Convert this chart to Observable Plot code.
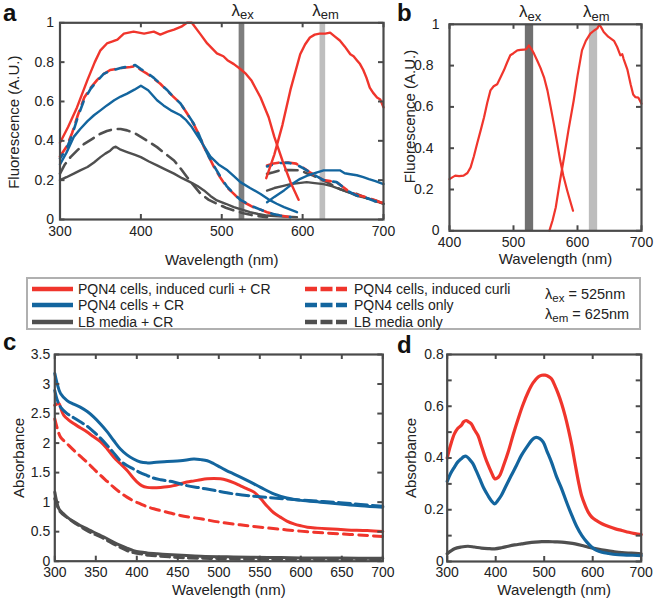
<!DOCTYPE html>
<html><head><meta charset="utf-8">
<script src="https://cdn.jsdelivr.net/npm/d3@7"></script>
<script src="https://cdn.jsdelivr.net/npm/@observablehq/plot@0.6"></script>
<style>
body{margin:0;background:#fff;}
#fig{position:relative;width:666px;height:599px;overflow:hidden;font-family:"Liberation Sans",Arial,Helvetica,sans-serif;color:#222;}
.plabel{position:absolute;font-weight:bold;font-size:24px;line-height:24px;color:#111;}
#legend{position:absolute;left:26px;top:277px;width:615px;height:53px;border:2px solid #b0b0b0;box-sizing:border-box;font-size:14px;}
.lent{position:absolute;height:16px;line-height:16px;white-space:nowrap;}
.lent svg{position:absolute;top:0;}
.lam{position:absolute;font-size:14.5px;white-space:nowrap;line-height:16px;}
.lam sub{font-size:11.5px;vertical-align:-3px;}
</style></head>
<body><div id="fig"></div>
<script>
// ---------- colours ----------
const RED = "#f0352c", BLUE = "#13659e", GRAY = "#4f4f4f", AXC = "#4a4a4a";
const FONT = '"Liberation Sans", Arial, Helvetica, sans-serif';

// ---------- panel a : fluorescence (excitation 300-595, emission 555-700) ----------
const aRedSolidEx = [[300,0.39],[310,0.47],[321,0.57],[334,0.71],[343,0.80],[350,0.86],[358,0.895],[365,0.905],[371,0.915],[379,0.945],[391,0.955],[404,0.945],[416,0.955],[424,0.94],[433,0.955],[441,0.965],[450,0.98],[457,1.0],[463,1.0],[474,0.94],[482,0.895],[494,0.845],[502,0.83],[507,0.81],[515,0.79],[523,0.765],[530,0.74],[537,0.705],[548,0.62],[558,0.52],[565,0.42],[575,0.30],[585,0.19],[595,0.10]];
const aRedSolidEm = [[555,0.21],[565,0.33],[575,0.48],[585,0.66],[597,0.84],[603,0.89],[609,0.925],[615,0.94],[621,0.945],[628,0.945],[634,0.95],[640,0.93],[646,0.91],[652,0.88],[659,0.84],[663,0.83],[667,0.81],[671,0.79],[675,0.76],[679,0.72],[683,0.67],[687,0.645],[692,0.62],[696,0.61],[700,0.57]];
const aBlueSolidEx = [[300,0.28],[308,0.34],[317,0.42],[325,0.46],[334,0.50],[342,0.53],[350,0.555],[358,0.58],[367,0.606],[375,0.625],[383,0.64],[392,0.66],[400,0.68],[409,0.657],[420,0.606],[428,0.58],[437,0.555],[449,0.53],[456,0.505],[463,0.47],[474,0.40],[486,0.32],[496,0.28],[507,0.25],[515,0.22],[523,0.19],[535,0.16],[548,0.13],[560,0.097],[568,0.08],[577,0.063],[585,0.05],[593,0.037]];
const aBlueSolidEm = [[556,0.088],[565,0.115],[577,0.148],[587,0.18],[597,0.207],[607,0.225],[618,0.24],[626,0.25],[638,0.25],[646,0.25],[652,0.235],[659,0.23],[667,0.225],[675,0.215],[682,0.205],[690,0.195],[700,0.18]];
const aGraySolidEx = [[300,0.2],[308,0.215],[317,0.233],[325,0.25],[334,0.267],[342,0.29],[350,0.317],[356,0.335],[362,0.35],[366,0.365],[369,0.37],[375,0.355],[383,0.343],[392,0.33],[400,0.317],[410,0.295],[420,0.275],[430,0.255],[441,0.233],[451,0.21],[461,0.19],[470,0.17],[478,0.148],[486,0.12],[494,0.097],[505,0.08],[515,0.063],[525,0.05],[535,0.037],[545,0.028],[556,0.02],[575,0.015],[593,0.012]];
const aGraySolidEm = [[556,0.147],[565,0.16],[575,0.17],[585,0.18],[595,0.185],[605,0.19],[615,0.185],[626,0.18],[636,0.17],[646,0.155],[656,0.14],[667,0.12],[678,0.11],[691,0.096],[700,0.08]];
const aRedDashEx = [[300,0.32],[308,0.37],[315,0.44],[322,0.53],[330,0.62],[338,0.67],[346,0.71],[354,0.74],[362,0.76],[375,0.77],[387,0.775],[393,0.78],[400,0.76],[408,0.74],[416,0.716],[424,0.69],[432,0.657],[440,0.625],[449,0.59],[457,0.54],[465,0.487],[472,0.43],[478,0.368],[484,0.32],[490,0.27],[498,0.215],[506,0.165],[515,0.13],[523,0.097],[531,0.08],[539,0.063],[548,0.05],[556,0.037],[564,0.028],[572,0.02],[585,0.012]];
const aBlueDashEx = [[300,0.31],[308,0.36],[315,0.43],[322,0.52],[330,0.61],[338,0.665],[346,0.705],[354,0.74],[362,0.755],[375,0.77],[387,0.78],[393,0.785],[400,0.765],[408,0.745],[416,0.72],[424,0.69],[432,0.66],[440,0.625],[449,0.59],[457,0.54],[465,0.49],[472,0.43],[478,0.37],[484,0.32],[490,0.275],[498,0.22],[506,0.17],[515,0.13],[523,0.1],[531,0.082],[539,0.065],[548,0.05],[556,0.037],[564,0.028],[572,0.02],[585,0.012]];
const aGrayDashEx = [[300,0.233],[306,0.28],[313,0.317],[321,0.35],[330,0.385],[340,0.41],[350,0.436],[358,0.45],[367,0.46],[375,0.46],[383,0.453],[392,0.44],[400,0.42],[410,0.395],[420,0.368],[430,0.335],[441,0.30],[449,0.26],[457,0.216],[466,0.17],[474,0.13],[484,0.10],[494,0.08],[505,0.06],[515,0.046],[527,0.032],[539.5,0.02],[556,0.012]];
const aRedDashEm = [[556,0.274],[564,0.285],[572,0.29],[582,0.29],[592,0.284],[600,0.265],[609,0.24],[617,0.22],[626,0.2],[634,0.195],[642,0.19],[650,0.165],[658,0.14],[668,0.125],[679,0.113],[688,0.1],[696,0.088],[700,0.085]];
const aBlueDashEm = [[556,0.27],[564,0.28],[572,0.287],[582,0.288],[592,0.28],[600,0.262],[609,0.24],[617,0.22],[626,0.2],[634,0.195],[642,0.19],[650,0.165],[658,0.14],[668,0.12],[679,0.11],[688,0.095],[696,0.085],[700,0.082]];
const aGrayDashEm = [[556,0.232],[564,0.24],[572,0.25],[585,0.252],[597,0.25],[605,0.235],[613,0.223],[622,0.205],[630,0.19],[638,0.172],[646,0.155],[656,0.14],[667,0.13],[677,0.112],[687,0.096],[695,0.088],[700,0.08]];

// ---------- panel b : purified curli + CR ----------
const bEx = [[400,0.25],[405,0.26],[409,0.267],[415,0.265],[422,0.267],[428,0.28],[433,0.307],[438,0.36],[443,0.42],[449,0.49],[454,0.55],[459,0.62],[464,0.68],[469,0.70],[474.5,0.71],[480,0.745],[485,0.777],[490,0.815],[495,0.85],[500,0.86],[506,0.874],[511,0.876],[516,0.877],[520,0.88],[524,0.898],[528,0.88],[532,0.858],[537,0.825],[542,0.79],[548,0.74],[553,0.68],[558,0.60],[563,0.518],[568,0.43],[573,0.34],[578,0.265],[584,0.194],[588,0.15],[593,0.097]];
const bEm = [[556,0],[561,0.05],[566,0.113],[572,0.23],[579,0.356],[586,0.49],[594,0.63],[600,0.75],[607,0.874],[613,0.92],[620,0.955],[626,0.97],[631,0.98],[634,1.0],[637,0.985],[641,0.963],[648,0.94],[657,0.92],[662,0.89],[667,0.85],[670,0.855],[672,0.833],[678,0.78],[683,0.71],[687,0.66],[690.6,0.647],[695,0.645],[700,0.615]];

// ---------- panel c : absorbance ----------
const cBlueSolid = [[300,3.18],[303,3.0],[307,2.84],[315,2.72],[323,2.66],[331,2.61],[340,2.53],[347.6,2.44],[356,2.32],[364,2.19],[372,2.04],[380,1.9],[388,1.8],[396,1.73],[404.5,1.68],[412,1.665],[420.7,1.67],[437,1.69],[453,1.70],[469.5,1.73],[478,1.72],[486,1.70],[494,1.65],[502,1.59],[510,1.53],[518,1.48],[534.5,1.37],[551,1.25],[567,1.14],[583,1.07],[600,1.03],[624,1.0],[648,0.97],[673,0.94],[700,0.915]];
const cBlueDash = [[300,2.89],[303,2.73],[307,2.61],[315,2.5],[323,2.43],[331,2.36],[340,2.28],[347.6,2.19],[356,2.08],[364,1.96],[372,1.83],[380,1.7],[388,1.62],[396,1.56],[404,1.5],[412.6,1.45],[420,1.41],[429,1.38],[445,1.34],[461,1.28],[478,1.24],[494,1.2],[518,1.14],[543,1.10],[567,1.07],[591.5,1.045],[620,1.017],[648,0.99],[673,0.96],[700,0.93]];
const cRedSolid = [[300,2.64],[305,2.67],[308,2.56],[311,2.47],[317,2.39],[323,2.33],[331,2.26],[339,2.19],[347,2.11],[356,2.02],[364,1.9],[372,1.76],[380,1.65],[388,1.54],[395,1.42],[400.4,1.34],[406,1.28],[412.6,1.25],[420,1.245],[429,1.25],[437,1.26],[445,1.28],[453,1.31],[461,1.34],[470,1.36],[478,1.38],[486,1.395],[494,1.40],[502,1.395],[510,1.37],[518,1.33],[526,1.28],[534,1.23],[543,1.17],[551,1.06],[559,0.93],[567,0.82],[575,0.746],[583,0.68],[591.5,0.633],[600,0.6],[608,0.576],[620,0.56],[632,0.548],[656.5,0.53],[681,0.52],[700,0.503]];
const cRedDash = [[300,2.41],[303,2.25],[307,2.10],[315,1.99],[323,1.88],[331,1.78],[339,1.68],[347,1.57],[356,1.45],[364,1.35],[372,1.25],[380,1.16],[388,1.085],[396,1.02],[404.5,0.97],[412,0.925],[420.7,0.887],[437,0.83],[453,0.774],[478,0.717],[502,0.66],[526,0.616],[551,0.576],[583,0.53],[616,0.49],[648,0.463],[681,0.435],[700,0.418]];
const cGraySolid = [[300,1.17],[302,1.03],[305,0.887],[310,0.81],[315,0.746],[323,0.67],[331,0.605],[340,0.545],[347.6,0.49],[356,0.435],[364,0.38],[372,0.32],[380,0.266],[388,0.22],[396,0.18],[404,0.155],[412.6,0.14],[425,0.125],[437,0.113],[455,0.1],[478,0.085],[518,0.073],[560,0.064],[600,0.056],[650,0.053],[700,0.05]];
const cGrayDash = [[300,1.06],[303,0.94],[307,0.83],[315,0.74],[323,0.66],[331,0.59],[339,0.52],[347,0.465],[356,0.41],[364,0.35],[372,0.29],[380,0.235],[388,0.18],[396,0.145],[404.5,0.124],[415,0.1],[429,0.085],[445,0.068],[461,0.056],[490,0.046],[518,0.04],[580,0.033],[640,0.028],[700,0.028]];

// ---------- panel d : absorbance difference ----------
const dRed = [[300,0.40],[307,0.45],[315,0.494],[322,0.515],[329,0.526],[334,0.54],[339,0.545],[344,0.54],[349.7,0.532],[356,0.51],[363.5,0.487],[370,0.45],[377,0.41],[384,0.375],[391,0.345],[398,0.32],[403,0.322],[408,0.332],[416,0.37],[425.7,0.423],[436,0.49],[446,0.55],[456,0.605],[467,0.655],[477,0.69],[487.5,0.713],[495,0.72],[501.7,0.72],[508,0.716],[515,0.706],[522,0.68],[529,0.648],[536,0.61],[543,0.564],[550,0.51],[557,0.448],[564,0.375],[570.8,0.307],[577,0.255],[584.6,0.216],[591,0.19],[598.4,0.171],[608,0.158],[619,0.146],[633,0.135],[647,0.126],[660,0.12],[674.4,0.113],[687,0.108],[700,0.104]];
const dBlue = [[300,0.31],[307,0.34],[315,0.365],[322,0.385],[329,0.397],[334,0.405],[339,0.407],[346,0.395],[353,0.378],[360,0.35],[367,0.32],[375,0.285],[384,0.255],[391,0.235],[398,0.223],[404,0.235],[411.5,0.255],[422,0.295],[432,0.332],[443,0.372],[453,0.41],[464,0.442],[474,0.468],[480,0.478],[484,0.48],[491,0.475],[498,0.461],[506,0.425],[515,0.384],[525,0.33],[536,0.281],[546,0.23],[557,0.178],[567,0.135],[577.7,0.1],[588,0.075],[598.4,0.055],[608,0.043],[619,0.036],[633,0.031],[647,0.027],[670,0.025],[700,0.023]];
const dGray = [[300,0.03],[315,0.049],[329,0.056],[342.8,0.059],[356,0.056],[370.5,0.052],[384,0.05],[398,0.049],[412,0.053],[425.7,0.059],[439,0.064],[453,0.068],[467,0.072],[481,0.075],[495,0.077],[508.6,0.077],[522,0.076],[536,0.075],[550,0.072],[564,0.068],[578,0.062],[591,0.055],[608,0.049],[626,0.043],[643,0.038],[660,0.034],[680,0.032],[700,0.03]];

// ---------- wavelengths, ticks, labels ----------
const EX = 525, EM = 625;
const aX = [300,400,500,600,700], aY = [0,0.2,0.4,0.6,0.8,1];
const bX = [400,500,600,700], bYdec = [0.2,0.4,0.6,0.8], bYint = [0,1];
const cX = [300,350,400,450,500,550,600,650,700], cY = [0,0.5,1,1.5,2,2.5,3,3.5];
const dX = [300,400,500,600,700], dY = [0,0.2,0.4,0.6,0.8], dYmarks = [0,0.1,0.2,0.3,0.4,0.5,0.6,0.7,0.8];
const legendSolid = ["PQN4 cells, induced curli + CR","PQN4 cells + CR","LB media + CR"];
const legendDash = ["PQN4 cells, induced curli","PQN4 cells only","LB media only"];
const legendColors = [RED, BLUE, GRAY];

const fig = document.getElementById("fig");
const xy = {x: d => d[0], y: d => d[1]};

function lam(x, yTop, sub, subFont) {
  return [
    Plot.text([x], {x: d => d, y: () => yTop, text: () => "λ", textAnchor: "end", lineAnchor: "middle", dx: -2, dy: -12.5, fontSize: 17}),
    Plot.text([x], {x: d => d, y: () => yTop, text: () => sub, textAnchor: "start", lineAnchor: "middle", dx: -2, dy: -7.5, fontSize: subFont})
  ];
}

function panel(o) {
  const W = o.width, H = o.height;
  const fx0 = o.frame[0] - o.left, fx1 = o.frame[1] - o.left, fy0 = o.frame[2] - o.top, fy1 = o.frame[3] - o.top;
  const fw = fx1 - fx0, fh = fy1 - fy0;
  const xd = o.xDomain, yd = o.yDomain;
  const tdy = (yd[1] - yd[0]) * 5 / fh, tdx = (xd[1] - xd[0]) * 5 / fw;
  const yMarks = o.yTickMarks;
  const TW = 2;
  const marks = [
    ...o.marks,
    Plot.ruleX(o.xTicks, {x: d => d, y1: () => yd[0], y2: () => yd[0] + tdy, stroke: AXC, strokeWidth: TW}),
    Plot.ruleX(o.xTicks, {x: d => d, y1: () => yd[1], y2: () => yd[1] - tdy, stroke: AXC, strokeWidth: TW}),
    Plot.ruleY(yMarks, {y: d => d, x1: () => xd[0], x2: () => xd[0] + tdx, stroke: AXC, strokeWidth: TW}),
    Plot.ruleY(yMarks, {y: d => d, x1: () => xd[1], x2: () => xd[1] - tdx, stroke: AXC, strokeWidth: TW}),
    Plot.frame({stroke: AXC, strokeWidth: 2.2}),
    Plot.axisX(o.xTicks, {tickSize: 0, tickPadding: o.xPad, label: null, tickFormat: d => String(d)}),
    ...o.yAxes.map(a => Plot.axisY(a.ticks, {tickSize: 0, tickPadding: a.pad, label: null, tickFormat: d => String(d)})),
    Plot.text([o.xLabel], {frameAnchor: "bottom", text: d => d, textAnchor: "middle", lineAnchor: "middle", dx: o.xLabelDx, dy: o.xLabelDy, fontSize: 15}),
    Plot.text([o.yLabel], {frameAnchor: "left", text: d => d, rotate: -90, textAnchor: "middle", lineAnchor: "middle", dx: o.yLabelDx, dy: o.yLabelDy, fontSize: 15})
  ];
  const svg = Plot.plot({
    width: W, height: H,
    marginLeft: fx0, marginRight: W - fx1, marginTop: fy0, marginBottom: H - fy1,
    x: {domain: xd}, y: {domain: yd},
    style: {fontFamily: FONT, fontSize: "14px", color: "#222", background: "transparent", overflow: "visible"},
    marks
  });
  svg.style.position = "absolute";
  svg.style.left = o.left + "px";
  svg.style.top = o.top + "px";
  fig.appendChild(svg);
}

// Panel a
panel({
  left: 0, top: 0, width: 395, height: 270, frame: [59.5, 383, 22.3, 219],
  xDomain: [300, 700], yDomain: [0, 1], xTicks: aX, yTickMarks: aY, xPad: 7,
  yAxes: [{ticks: aY, pad: 6}],
  xLabel: "Wavelength (nm)", xLabelDx: 0, xLabelDy: 41,
  yLabel: "Fluorescence (A.U.)", yLabelDx: -46, yLabelDy: 1,
  marks: [
    Plot.rect([EX], {x1: d => d - 3.5, x2: d => d + 3.5, y1: 0, y2: 1, fill: "#7e7e7e"}),
    Plot.rect([EM], {x1: d => d - 3.5, x2: d => d + 3.5, y1: 0, y2: 1, fill: "#bebebe"}),
    Plot.line(aGrayDashEx, {...xy, stroke: GRAY, strokeWidth: 2.6, strokeDasharray: "12,7"}),
    Plot.line(aGrayDashEm, {...xy, stroke: GRAY, strokeWidth: 2.6, strokeDasharray: "12,7"}),
    Plot.line(aGraySolidEx, {...xy, stroke: GRAY, strokeWidth: 2.4}),
    Plot.line(aGraySolidEm, {...xy, stroke: GRAY, strokeWidth: 2.4}),
    Plot.line(aRedDashEx, {...xy, stroke: RED, strokeWidth: 2.6, strokeDasharray: "12,7"}),
    Plot.line(aRedDashEm, {...xy, stroke: RED, strokeWidth: 2.6, strokeDasharray: "12,7"}),
    Plot.line(aBlueDashEx, {...xy, stroke: BLUE, strokeWidth: 2.6, strokeDasharray: "10,9", strokeDashoffset: 5}),
    Plot.line(aBlueDashEm, {...xy, stroke: BLUE, strokeWidth: 2.6, strokeDasharray: "10,9", strokeDashoffset: 5}),
    Plot.line(aBlueSolidEx, {...xy, stroke: BLUE, strokeWidth: 2.4}),
    Plot.line(aBlueSolidEm, {...xy, stroke: BLUE, strokeWidth: 2.4}),
    Plot.line(aRedSolidEx, {...xy, stroke: RED, strokeWidth: 2.4}),
    Plot.line(aRedSolidEm, {...xy, stroke: RED, strokeWidth: 2.4}),
    ...lam(EX, 1, "ex", 13),
    ...lam(EM, 1, "em", 13)
  ]
});

// Panel b
panel({
  left: 395, top: 0, width: 271, height: 270, frame: [449, 641, 23.8, 230.3],
  xDomain: [400, 700], yDomain: [0, 1], xTicks: bX, yTickMarks: aY, xPad: 6,
  yAxes: [{ticks: bYdec, pad: 16}, {ticks: bYint, pad: 10}],
  xLabel: "Wavelength (nm)", xLabelDx: 10, xLabelDy: 28,
  yLabel: "Fluorescence (A.U.)", yLabelDx: -39, yLabelDy: -11,
  marks: [
    Plot.rect([EX], {x1: d => d - 6.5, x2: d => d + 6.5, y1: 0, y2: 1, fill: "#707070"}),
    Plot.rect([EM], {x1: d => d - 6.5, x2: d => d + 6.5, y1: 0, y2: 1, fill: "#bdbdbd"}),
    Plot.line(bEx, {...xy, stroke: RED, strokeWidth: 2.2}),
    Plot.line(bEm, {...xy, stroke: RED, strokeWidth: 2.2}),
    ...lam(EX, 1, "ex", 13),
    ...lam(EM, 1, "em", 13)
  ]
});

// Panel c
panel({
  left: 0, top: 335, width: 395, height: 264, frame: [54.3, 382.3, 354, 560.7],
  xDomain: [300, 700], yDomain: [0, 3.5], xTicks: cX, yTickMarks: cY, xPad: 6,
  yAxes: [{ticks: cY, pad: 4.5}],
  xLabel: "Wavelength (nm)", xLabelDx: 10, xLabelDy: 29,
  yLabel: "Absorbance", yLabelDx: -36, yLabelDy: 0,
  marks: [
    Plot.line(cGrayDash, {...xy, stroke: GRAY, strokeWidth: 3, strokeDasharray: "9,5", curve: "catmull-rom"}),
    Plot.line(cGraySolid, {...xy, stroke: GRAY, strokeWidth: 3, curve: "catmull-rom"}),
    Plot.line(cRedDash, {...xy, stroke: RED, strokeWidth: 3, strokeDasharray: "9,6", curve: "catmull-rom"}),
    Plot.line(cRedSolid, {...xy, stroke: RED, strokeWidth: 3, curve: "catmull-rom"}),
    Plot.line(cBlueDash, {...xy, stroke: BLUE, strokeWidth: 3, strokeDasharray: "12,5", curve: "catmull-rom"}),
    Plot.line(cBlueSolid, {...xy, stroke: BLUE, strokeWidth: 3, curve: "catmull-rom"})
  ]
});

// Panel d
panel({
  left: 395, top: 335, width: 271, height: 264, frame: [446.7, 640.7, 354, 561],
  xDomain: [300, 700], yDomain: [0, 0.8], xTicks: dX, yTickMarks: dYmarks, xPad: 6,
  yAxes: [{ticks: dY, pad: 3.5}],
  xLabel: "Wavelength (nm)", xLabelDx: 10, xLabelDy: 29,
  yLabel: "Absorbance", yLabelDx: -36, yLabelDy: 0,
  marks: [
    Plot.line(dGray, {...xy, stroke: GRAY, strokeWidth: 3.2, curve: "catmull-rom"}),
    Plot.line(dBlue, {...xy, stroke: BLUE, strokeWidth: 3.2, curve: "catmull-rom"}),
    Plot.line(dRed, {...xy, stroke: RED, strokeWidth: 3.2, curve: "catmull-rom"})
  ]
});

// Panel letters
[["a", 3, 1], ["b", 397, 1], ["c", 3, 330], ["d", 397, 333]].forEach(([t, l, tp]) => {
  const el = document.createElement("div");
  el.className = "plabel"; el.textContent = t;
  el.style.left = l + "px"; el.style.top = tp + "px";
  fig.appendChild(el);
});

// Legend
const lg = document.createElement("div");
lg.id = "legend";
fig.appendChild(lg);
const rowTops = [2, 18, 34.5];
legendSolid.forEach((t, i) => {
  const e = document.createElement("div");
  e.className = "lent";
  e.style.left = "4px"; e.style.top = rowTops[i] + "px";
  e.innerHTML = `<svg width="41" height="16"><line x1="0" x2="41" y1="8" y2="8" stroke="${legendColors[i]}" stroke-width="4.5"/></svg><span style="position:absolute;left:46px">${t}</span>`;
  lg.appendChild(e);
});
legendDash.forEach((t, i) => {
  const e = document.createElement("div");
  e.className = "lent";
  e.style.left = "277px"; e.style.top = rowTops[i] + "px";
  e.innerHTML = `<svg width="42" height="16"><line x1="0" x2="42" y1="8" y2="8" stroke="${legendColors[i]}" stroke-width="4.5" stroke-dasharray="12,3.5"/></svg><span style="position:absolute;left:49px">${t}</span>`;
  lg.appendChild(e);
});
[["ex", EX, 6.5], ["em", EM, 26.5]].forEach(([s, v, tp]) => {
  const e = document.createElement("div");
  e.className = "lam";
  e.style.left = "517px"; e.style.top = tp + "px";
  e.innerHTML = `λ<sub>${s}</sub> = ${v}nm`;
  lg.appendChild(e);
});
</script>
</body></html>
